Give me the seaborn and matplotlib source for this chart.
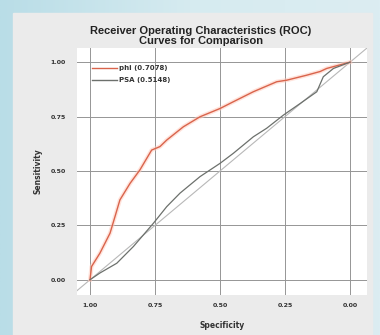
import numpy as np
import pandas as pd
import matplotlib
matplotlib.use("Agg")
import matplotlib.pyplot as plt
import matplotlib.patheffects as pe
from matplotlib.patches import Rectangle
import seaborn as sns

# ---- data ----
phi_spec = [1.000, 0.994, 0.962, 0.923, 0.904, 0.885, 0.846, 0.808, 0.763, 0.731,
            0.705, 0.641, 0.577, 0.500, 0.449, 0.372, 0.282, 0.244, 0.167, 0.115, 0.090, 0.000]
phi_sens = [0.000, 0.061, 0.122, 0.214, 0.290, 0.367, 0.443, 0.505, 0.596, 0.612,
            0.642, 0.703, 0.749, 0.787, 0.818, 0.864, 0.910, 0.917, 0.940, 0.957, 0.971, 1.000]
psa_spec = [1.000, 0.962, 0.897, 0.833, 0.756, 0.705, 0.654, 0.577, 0.500, 0.449,
            0.372, 0.321, 0.256, 0.192, 0.128, 0.103, 0.064, 0.000]
psa_sens = [0.000, 0.031, 0.076, 0.153, 0.260, 0.336, 0.398, 0.474, 0.535, 0.581,
            0.657, 0.696, 0.757, 0.810, 0.864, 0.933, 0.971, 1.000]
labels = ["phi (0.7078)", "PSA (0.5148)"]
ticks = [1.00, 0.75, 0.50, 0.25, 0.00]
tick_labels = ["1.00", "0.75", "0.50", "0.25", "0.00"]
ref_x = [1.10, -0.10]
ref_y = [-0.10, 1.10]

df = pd.concat([
    pd.DataFrame({"Specificity": phi_spec, "Sensitivity": phi_sens, "Marker": labels[0]}),
    pd.DataFrame({"Specificity": psa_spec, "Sensitivity": psa_sens, "Marker": labels[1]}),
])

W, H = 380, 335
fig = plt.figure(figsize=(W / 100, H / 100), dpi=100)
fig.patch.set_facecolor("#d3e9ef")

# background gradient + gray panel
bg = fig.add_axes([0, 0, 1, 1], zorder=-10)
grad = np.linspace(0, 1, 256)[None, :]
bg.imshow(grad, aspect="auto", extent=[0, 1, 0, 1],
          cmap=matplotlib.colors.LinearSegmentedColormap.from_list("b", ["#b9dde7", "#d6ebf0", "#dcedf2"]))
bg.add_patch(Rectangle((13 / W, 0), (372 - 13) / W, (H - 13) / H, color="#ebebeb", zorder=2))
bg.set_xlim(0, 1); bg.set_ylim(0, 1)
bg.axis("off")

ax = fig.add_axes([77 / W, 40 / H, (367 - 77) / W, (295 - 48) / H])
ax.set_facecolor("#ffffff")

ax.plot(ref_x, ref_y, color="#b8b8b8", lw=0.8, zorder=2)
palette = {labels[0]: "#d9644c", labels[1]: "#6c706c"}
sns.lineplot(data=df, x="Specificity", y="Sensitivity", hue="Marker", palette=palette,
             sort=False, estimator=None, lw=1.0, ax=ax, zorder=3)
lines = ax.get_lines()
lines[1].set_path_effects([pe.Stroke(linewidth=3.0, foreground=(1.0, 0.8, 0.75, 0.55)), pe.Normal()])
lines[2].set_linewidth(0.9)

ax.set_xlim(1.05, -0.065)
ax.set_ylim(-0.07, 1.065)
ax.set_xticks(ticks)
ax.set_xticklabels(tick_labels)
ax.set_yticks(ticks)
ax.set_yticklabels(tick_labels)
ax.grid(True, color="#959595", lw=0.7)
ax.set_axisbelow(True)
for s in ax.spines.values():
    s.set_visible(False)
ax.tick_params(length=0, labelsize=4.5, labelcolor="#333333", pad=6)
ax.tick_params(axis="y", pad=8)
for t in ax.get_xticklabels() + ax.get_yticklabels():
    t.set_fontweight("bold")
ax.set_xlabel("Specificity", fontsize=5.5, fontweight="bold", color="#333333", labelpad=9)
ax.set_ylabel("Sensitivity", fontsize=5.5, fontweight="bold", color="#333333", labelpad=6)

leg = ax.legend(loc="upper left", bbox_to_anchor=(0.05, 0.93), frameon=False, fontsize=5,
                handlelength=3.6, handletextpad=0.3, labelspacing=0.85, borderaxespad=0,
                borderpad=0)
for t in leg.get_texts():
    t.set_fontweight("bold"); t.set_color("#333333")

fig.text(201 / W, 1 - 36 / H, "Receiver Operating Characteristics (ROC)\nCurves for Comparison",
         ha="center", va="center", fontsize=8, fontweight="bold", color="#222222",
         family="Liberation Sans", linespacing=1.0)

fig.savefig("out.png", dpi=100, facecolor=fig.get_facecolor())
